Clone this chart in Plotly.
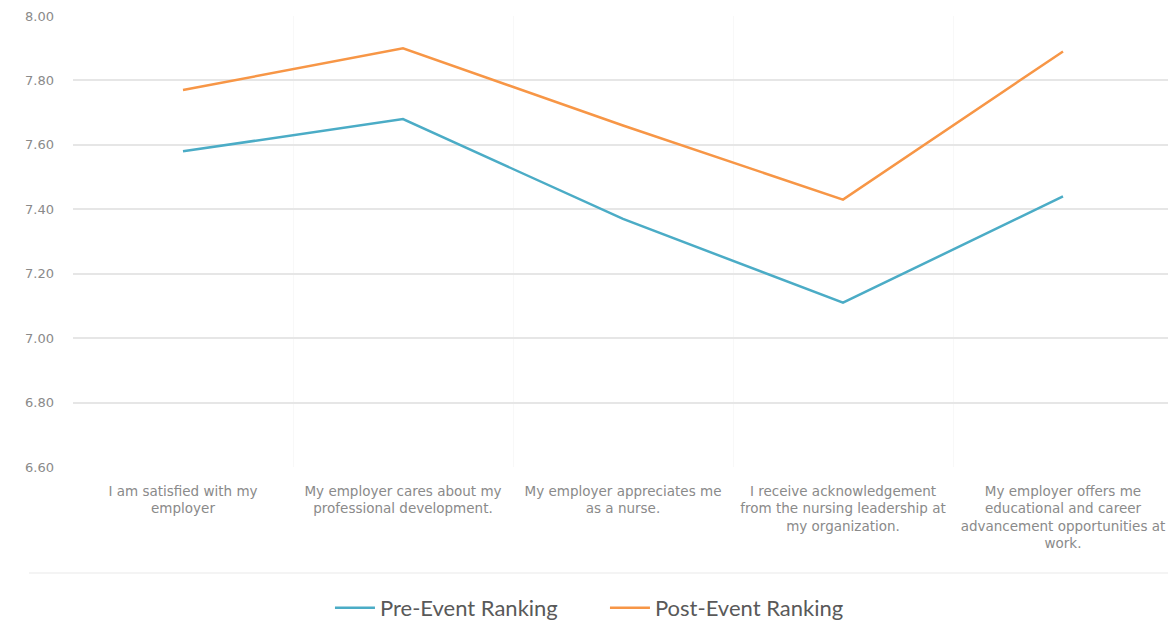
import plotly.graph_objects as go

categories = [
    "I am satisfied with my<br>employer",
    "My employer cares about my<br>professional development.",
    "My employer appreciates me<br>as a nurse.",
    "I receive acknowledgement<br>from the nursing leadership at<br>my organization.",
    "My employer offers me<br>educational and career<br>advancement opportunities at<br>work.",
]
pre_event = [7.58, 7.68, 7.37, 7.11, 7.44]
post_event = [7.77, 7.90, 7.66, 7.43, 7.89]
y_ticks = [6.60, 6.80, 7.00, 7.20, 7.40, 7.60, 7.80, 8.00]

fig = go.Figure()
fig.add_trace(go.Scatter(x=categories, y=pre_event, mode="lines", name="Pre-Event Ranking",
                         line=dict(color="#4bacc6", width=2.5)))
fig.add_trace(go.Scatter(x=categories, y=post_event, mode="lines", name="Post-Event Ranking",
                         line=dict(color="#f79646", width=2.5)))

tick_font = dict(family="DejaVu Sans", size=13, color="#8a8a8a")

fig.update_layout(
    width=1176, height=623,
    margin=dict(l=65, r=11, t=8, b=164),
    paper_bgcolor="white", plot_bgcolor="white",
    font=dict(family="Lato, 'Open Sans', sans-serif", color="#7f7f7f"),
    showlegend=True,
    legend=dict(orientation="h", x=0.2336, xanchor="left", y=0.037, yref="container",
                yanchor="middle",
                font=dict(size=22, color="#595959"), itemwidth=40, tracegroupgap=0,
                entrywidth=220, entrywidthmode="pixels"),
    xaxis=dict(range=[-0.5, 4.5], showgrid=True, gridcolor="#f8f8f8", tickson="boundaries",
               ticks="", showline=False, zeroline=False, automargin=False,
               tickfont=dict(family="DejaVu Sans", size=13.5, color="#8a8a8a"),
               ticklabelstandoff=14),
    yaxis=dict(range=[6.6, 8.0], tickvals=y_ticks, tickformat=".2f", showgrid=True,
               gridcolor="#e6e6e6", gridwidth=1.5, zeroline=False, showline=False,
               automargin=False, tickfont=tick_font, ticklabelstandoff=18),
    shapes=[dict(type="line", xref="paper", yref="paper", x0=-0.04, x1=1, y0=-0.235, y1=-0.235,
                 line=dict(color="#f0f0f0", width=1.5))],
)

fig.write_html("out.html")
